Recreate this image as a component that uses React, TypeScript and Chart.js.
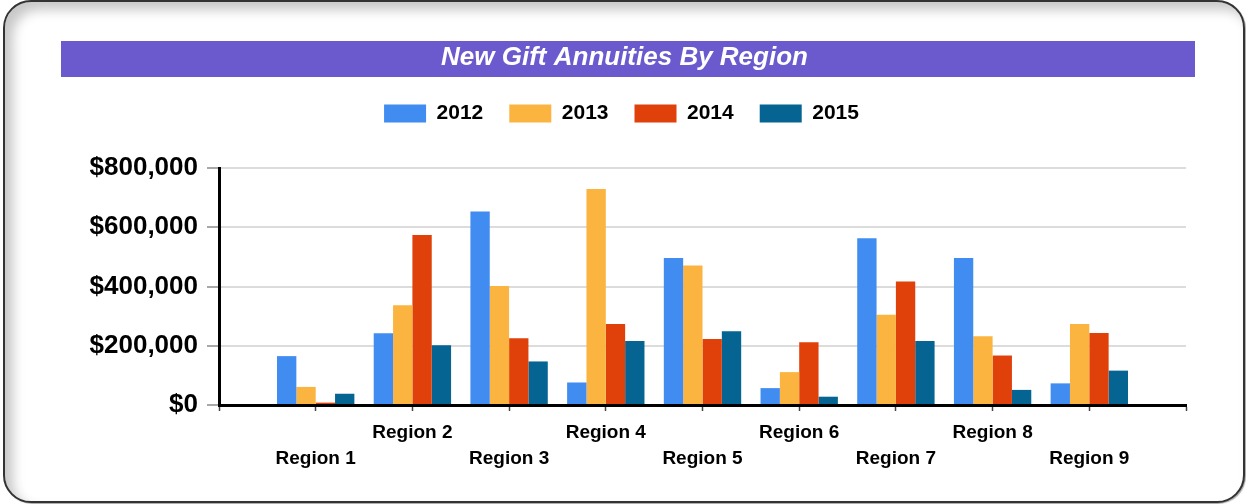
import React, { useEffect, useRef } from 'react';
import { Chart, registerables } from 'chart.js';

Chart.register(...registerables);

const regions = ['Region 1', 'Region 2', 'Region 3', 'Region 4', 'Region 5', 'Region 6', 'Region 7', 'Region 8', 'Region 9'];
const years = ['2012', '2013', '2014', '2015'];
const values2012 = [165000, 242000, 653000, 76000, 496000, 57000, 563000, 496000, 73000];
const values2013 = [61000, 337000, 402000, 729000, 471000, 111000, 305000, 232000, 273000];
const values2014 = [8000, 574000, 225000, 273000, 223000, 212000, 417000, 167000, 243000];
const values2015 = [38000, 202000, 147000, 216000, 249000, 28000, 216000, 51000, 116000];
const seriesColors = ['#418CF0', '#FCB441', '#E0400A', '#056492'];
const yMin = 0;
const yMax = 800000;
const yStep = 200000;
const titleText = 'New Gift Annuities By Region';

const FONT = "'Liberation Sans', Arial, Helvetica, sans-serif";

const titleBand = {
  id: 'titleBand',
  beforeDraw(chart: any) {
    const t = chart.titleBlock;
    if (!t) return;
    const ctx = chart.ctx;
    ctx.save();
    ctx.fillStyle = '#6A5ACD';
    ctx.fillRect(0, t.top, chart.width, t.height);
    ctx.restore();
  },
};

const legendNudge = {
  id: 'legendNudge',
  afterLayout(chart: any) {
    const l = chart.legend;
    if (l) {
      l.left -= 3;
      l.right -= 3;
    }
  },
};

export default function App() {
  const ref = useRef<HTMLCanvasElement>(null);

  useEffect(() => {
    if (!ref.current) return;
    const labels = ['', ...regions, ''];
    const pad = (arr: number[]) => [null, ...arr, null];
    const series = [values2012, values2013, values2014, values2015];
    const chart = new Chart(ref.current, {
      type: 'bar',
      data: {
        labels,
        datasets: series.map((vals, i) => ({
          label: years[i],
          data: pad(vals),
          backgroundColor: seriesColors[i],
          borderColor: seriesColors[i],
          borderWidth: 0,
          categoryPercentage: 0.8,
          barPercentage: 1.0,
        })),
      },
      options: {
        responsive: false,
        animation: false,
        layout: { padding: { left: 0, right: 7, top: 0, bottom: 0 } },
        plugins: {
          tooltip: { enabled: false },
          title: {
            display: true,
            text: titleText,
            color: '#ffffff',
            padding: { top: 2, bottom: 4 },
            font: { family: FONT, size: 26, weight: 'bold', style: 'italic', lineHeight: '30px' },
          },
          subtitle: {
            display: true,
            text: '',
            weight: 500,
            padding: 0,
            font: { family: FONT, size: 34, lineHeight: 1 },
          },
          legend: {
            display: true,
            position: 'top',
            labels: {
              boxWidth: 42,
              boxHeight: 18,
              padding: 26,
              color: '#000000',
              font: { family: FONT, size: 21, weight: 'bold' },
            },
          },
        },
        scales: {
          x: {
            type: 'category',
            offset: false,
            grid: {
              offset: false,
              drawOnChartArea: false,
              drawTicks: true,
              tickLength: 6,
              tickColor: '#444444',
              tickWidth: 1.5,
            },
            border: { display: true, color: '#000000', width: 3, z: 1 },
            ticks: {
              autoSkip: false,
              maxRotation: 0,
              minRotation: 0,
              padding: 9,
              color: '#000000',
              font: { family: FONT, size: 19, weight: 'bold', lineHeight: '26px' },
              callback: function (this: any, value: any, index: number) {
                const l = this.getLabelForValue(value);
                if (!l) return '';
                return index % 2 === 1 ? ['', l] : l;
              },
            },
          },
          y: {
            min: yMin,
            max: yMax,
            afterFit: (scale: any) => {
              scale.width = 158;
            },
            grid: {
              color: '#dcdcdc',
              lineWidth: 2,
              tickLength: 12,
              tickColor: '#a8a8a8',
              tickWidth: 2,
            },
            border: { display: true, color: '#000000', width: 3, z: 1 },
            ticks: {
              stepSize: yStep,
              padding: 9,
              color: '#000000',
              font: { family: FONT, size: 26, weight: 'bold' },
              callback: (v: any) => '$' + Number(v).toLocaleString('en-US'),
            },
          },
        },
      },
      plugins: [titleBand, legendNudge],
    } as any);
    return () => chart.destroy();
  }, []);

  return (
    <div style={{ position: 'fixed', left: 0, top: 0, width: 1246, height: 504, background: '#ffffff', overflow: 'hidden' }}>
      <div
        style={{
          position: 'absolute',
          left: 3,
          top: 0,
          width: 1242,
          height: 503,
          boxSizing: 'border-box',
          border: '2px solid #333333',
          borderRadius: 28,
          background: '#ffffff',
          boxShadow: 'inset 8px 8px 12px rgba(0,0,0,0.22), 1px 1px 1px rgba(0,0,0,0.35)',
        }}
      />
      <div style={{ position: 'absolute', left: 61, top: 41, width: 1134, height: 440 }}>
        <canvas ref={ref} width={1134} height={440} style={{ display: 'block' }} />
      </div>
    </div>
  );
}
